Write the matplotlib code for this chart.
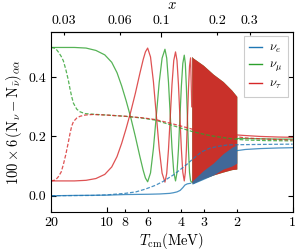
import matplotlib
matplotlib.use('Agg')
import matplotlib.pyplot as plt

plt.rcParams['font.family'] = 'serif'
plt.rcParams['font.serif'] = ['cmr10']
plt.rcParams['mathtext.fontset'] = 'cm'
plt.rcParams['axes.formatter.use_mathtext'] = True
plt.rcParams['axes.unicode_minus'] = False

ME = 0.511  # MeV, top axis is x = m_e / T

# --- solid lines (Tcm in MeV, value) ---
# nu_e, before the fast oscillations
T_e_solid = [20, 15, 10, 8, 6, 5.2, 4.6, 4.4, 4.2, 4.04, 3.9, 3.81, 3.7, 3.55]
v_e_solid = [0.0, 0.001, 0.002, 0.004, 0.005, 0.006, 0.008, 0.010, 0.013, 0.018, 0.028, 0.036, 0.040, 0.042]
# nu_mu, before the fast oscillations
T_mu_solid = [20, 15, 13, 11.5, 10.3, 9.45, 8.85, 8.35, 7.9, 7.45, 7.05, 6.65, 6.39, 6.22, 6.05,
              5.838, 5.632, 5.433, 5.242, 5.057, 4.88,
              4.775, 4.671, 4.570, 4.472, 4.375, 4.28,
              4.203, 4.128, 4.054, 3.982, 3.910, 3.84,
              3.790, 3.741, 3.692, 3.644, 3.597, 3.55, 3.50]
v_mu_solid = [0.500, 0.500, 0.498, 0.490, 0.475, 0.450, 0.415, 0.370, 0.320, 0.262, 0.200, 0.130, 0.085, 0.060, 0.047,
              0.077, 0.159, 0.270, 0.382, 0.464, 0.494,
              0.464, 0.383, 0.272, 0.161, 0.080, 0.050,
              0.078, 0.156, 0.262, 0.368, 0.446, 0.474,
              0.446, 0.368, 0.262, 0.156, 0.078, 0.050, 0.046]
# nu_tau, before the fast oscillations
T_tau_solid = [20, 15, 13, 11.5, 10.3, 9.45, 8.85, 8.35, 7.9, 7.45, 7.05, 6.65, 6.39, 6.22, 6.05,
               5.838, 5.632, 5.433, 5.242, 5.057, 4.88,
               4.775, 4.671, 4.570, 4.472, 4.375, 4.28,
               4.203, 4.128, 4.054, 3.982, 3.910, 3.84,
               3.790, 3.741, 3.692, 3.644, 3.597, 3.55, 3.50]
v_tau_solid = [0.050, 0.050, 0.052, 0.058, 0.072, 0.097, 0.132, 0.177, 0.227, 0.285, 0.345, 0.415, 0.460, 0.485, 0.498,
               0.468, 0.385, 0.272, 0.159, 0.076, 0.046,
               0.075, 0.156, 0.265, 0.375, 0.456, 0.485,
               0.456, 0.376, 0.267, 0.159, 0.079, 0.050,
               0.078, 0.154, 0.257, 0.361, 0.437, 0.465, 0.300]

# fast oscillation region: envelopes
T_fast = [3.50, 3.45, 3.03, 2.68, 2.37, 2.13, 2.0]
fast_hi = [0.470, 0.465, 0.440, 0.410, 0.385, 0.356, 0.335]
fast_lo = [0.045, 0.042, 0.058, 0.070, 0.080, 0.088, 0.090]
e_fast_hi = [0.046, 0.052, 0.085, 0.110, 0.142, 0.163, 0.172]
e_fast_lo = [0.040, 0.040, 0.055, 0.070, 0.090, 0.100, 0.110]

# after T = 2 MeV
T_late = [2.0, 1.8, 1.5, 1.2, 1.0]
v_e_late = [0.152, 0.156, 0.159, 0.161, 0.162]
v_mu_late = [0.193, 0.193, 0.192, 0.191, 0.191]
v_tau_late = [0.205, 0.203, 0.200, 0.198, 0.197]

# --- dashed lines ---
T_e_dash = [20, 12, 10, 8, 7, 6.25, 5.5, 5.0, 4.4, 4.0, 3.7, 3.45, 3.1, 2.8, 2.5, 2.26, 2.0, 1.5, 1.0]
v_e_dash = [0.0, 0.001, 0.003, 0.008, 0.013, 0.022, 0.035, 0.048, 0.070, 0.090, 0.107, 0.124, 0.148, 0.160, 0.167, 0.171, 0.172, 0.173, 0.174]
T_mu_dash = [20, 19, 18.34, 17.7, 17.23, 16.7, 16.2, 15.86, 15.53, 15.2, 14.59, 14.0, 13.16, 12, 10, 8, 6.5, 5.5,
             4.6, 4.0, 3.5, 3.0, 2.68, 2.37, 2.0, 1.8, 1.4, 1.0]
v_mu_dash = [0.500, 0.497, 0.485, 0.470, 0.455, 0.425, 0.390, 0.360, 0.334, 0.312, 0.292, 0.283, 0.277, 0.275, 0.272,
             0.268, 0.262, 0.255, 0.240, 0.228, 0.217, 0.207, 0.201, 0.196, 0.190, 0.188, 0.186, 0.185]
T_tau_dash = [20, 19, 18.34, 17.7, 17.23, 16.7, 16.2, 15.86, 15.53, 15.2, 14.59, 14.0, 13.16, 12, 10, 8, 6.5, 5.5,
              4.6, 4.0, 3.5, 3.0, 2.68, 2.37, 2.0, 1.8, 1.4, 1.0]
v_tau_dash = [0.050, 0.053, 0.064, 0.080, 0.105, 0.140, 0.180, 0.210, 0.235, 0.250, 0.262, 0.268, 0.272, 0.274, 0.272,
              0.268, 0.263, 0.257, 0.245, 0.235, 0.225, 0.215, 0.209, 0.204, 0.199, 0.195, 0.191, 0.188]

c_e, c_mu, c_tau = '#1f77b4', '#2ca02c', '#d62728'
lw = 0.9
al = 0.8
dash = (3, 1.5)

fig = plt.figure(figsize=(3.02, 2.5), dpi=100)
ax = fig.add_axes([0.170, 0.153, 0.799, 0.720])

# solid lines
ax.plot(T_e_solid, v_e_solid, color=c_e, lw=lw, alpha=al, label=r'$\nu_e$')
ax.plot(T_late, v_e_late, color=c_e, lw=lw, alpha=al)
ax.plot(T_mu_solid, v_mu_solid, color=c_mu, lw=lw, alpha=al, label=r'$\nu_\mu$')
ax.plot(T_late, v_mu_late, color=c_mu, lw=lw, alpha=al)
ax.plot(T_tau_solid, v_tau_solid, color=c_tau, lw=lw, alpha=al, label=r'$\nu_\tau$')
ax.plot(T_late, v_tau_late, color=c_tau, lw=lw, alpha=al)

# fast oscillations drawn as bands
ax.fill_between(T_fast, fast_lo, fast_hi, color=c_mu, lw=0, alpha=0.9)
ax.fill_between(T_fast, fast_lo, fast_hi, color=c_tau, lw=0, alpha=0.92)
ax.fill_between(T_fast, e_fast_lo, e_fast_hi, color=c_e, lw=0, alpha=0.8, zorder=3)

# dashed lines
ax.plot(T_e_dash, v_e_dash, color=c_e, lw=lw, alpha=al, dashes=dash)
ax.plot(T_mu_dash, v_mu_dash, color=c_mu, lw=lw, alpha=al, dashes=dash)
ax.plot(T_tau_dash, v_tau_dash, color=c_tau, lw=lw, alpha=al, dashes=dash)

ax.set_xscale('log')
ax.set_xlim(20, 1)
ax.set_ylim(-0.054, 0.553)
ax.set_xticks([1, 10], ['1', '10'])
ax.set_xticks([2, 3, 4, 6, 8, 20], ['2', '3', '4', '6', '8', '20'], minor=True)
ax.set_yticks([0.0, 0.2, 0.4], ['0.0', '0.2', '0.4'])
ax.tick_params(which='both', direction='in', right=True, top=False, labelsize=10, width=0.8)
ax.tick_params(which='major', length=3.5)
ax.tick_params(which='minor', length=2)
ax.set_xlabel(r'$T_\mathrm{cm}(\mathrm{MeV})$', fontsize=10.5, labelpad=2)
ax.set_ylabel(r'$100\times 6\,(\mathrm{N}_\nu-\mathrm{N}_{\bar\nu})_{\alpha\alpha}$', fontsize=10.5, labelpad=3)

sec = ax.secondary_xaxis('top', functions=(lambda t: ME / t, lambda x: ME / x))
sec.set_xticks([0.1], ['0.1'])
sec.set_xticks([0.03, 0.06, 0.2, 0.3], ['0.03', '0.06', '0.2', '0.3'], minor=True)
sec.tick_params(which='both', direction='in', labelsize=10, width=0.8)
sec.tick_params(which='major', length=3.5)
sec.tick_params(which='minor', length=2)
sec.set_xlabel(r'$x$', fontsize=10.5, labelpad=4)

leg = ax.legend(loc='upper right', fontsize=9, handlelength=1.0, handletextpad=0.6,
                labelspacing=0.3, borderpad=0.45, borderaxespad=0.35, fancybox=False,
                edgecolor='0.8', framealpha=1)
leg.get_frame().set_linewidth(0.8)
for h in leg.get_lines():
    h.set_alpha(1)
    h.set_linewidth(1.0)

fig.savefig('out.png', dpi=100)
